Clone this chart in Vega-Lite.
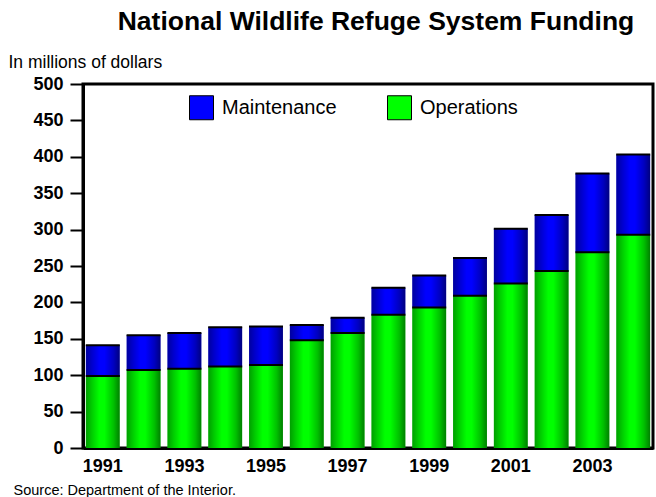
{
  "$schema": "https://vega.github.io/schema/vega-lite/v6.json",
  "width": 570,
  "height": 364,
  "autosize": {"type": "none"},
  "padding": {"left": 83, "top": 84, "right": 3, "bottom": 49},
  "background": "white",
  "title": {
    "text": "National Wildlife Refuge System Funding",
    "font": "Liberation Sans",
    "fontSize": 26.5,
    "fontWeight": "bold",
    "color": "black",
    "anchor": "middle",
    "frame": "group",
    "baseline": "alphabetic",
    "dx": 8,
    "offset": -3
  },
  "data": {
    "values": [
      {"year": 1991, "series": "Operations", "value": 99},
      {"year": 1991, "series": "Maintenance", "value": 42},
      {"year": 1992, "series": "Operations", "value": 107},
      {"year": 1992, "series": "Maintenance", "value": 48},
      {"year": 1993, "series": "Operations", "value": 109},
      {"year": 1993, "series": "Maintenance", "value": 49},
      {"year": 1994, "series": "Operations", "value": 112},
      {"year": 1994, "series": "Maintenance", "value": 54},
      {"year": 1995, "series": "Operations", "value": 114},
      {"year": 1995, "series": "Maintenance", "value": 53},
      {"year": 1996, "series": "Operations", "value": 148},
      {"year": 1996, "series": "Maintenance", "value": 21},
      {"year": 1997, "series": "Operations", "value": 158},
      {"year": 1997, "series": "Maintenance", "value": 21},
      {"year": 1998, "series": "Operations", "value": 183},
      {"year": 1998, "series": "Maintenance", "value": 37},
      {"year": 1999, "series": "Operations", "value": 193},
      {"year": 1999, "series": "Maintenance", "value": 44},
      {"year": 2000, "series": "Operations", "value": 209},
      {"year": 2000, "series": "Maintenance", "value": 52},
      {"year": 2001, "series": "Operations", "value": 226},
      {"year": 2001, "series": "Maintenance", "value": 75},
      {"year": 2002, "series": "Operations", "value": 243},
      {"year": 2002, "series": "Maintenance", "value": 77},
      {"year": 2003, "series": "Operations", "value": 269},
      {"year": 2003, "series": "Maintenance", "value": 108},
      {"year": 2004, "series": "Operations", "value": 293},
      {"year": 2004, "series": "Maintenance", "value": 110}
    ]
  },
  "transform": [
    {
      "stack": "value",
      "groupby": ["year"],
      "sort": [{"field": "series", "order": "descending"}],
      "as": ["v0", "v1"]
    }
  ],
  "encoding": {
    "x": {
      "field": "year",
      "type": "ordinal",
      "scale": {"paddingInner": 0.17, "paddingOuter": 0.07},
      "axis": {
        "values": [1991, 1993, 1995, 1997, 1999, 2001, 2003],
        "labelAngle": 0,
        "ticks": false,
        "tickSize": 0,
        "labelPadding": 9,
        "title": "Source: Department of the Interior.",
        "titleX": -70,
        "titleY": 46,
        "titleAlign": "left",
        "titleAnchor": null,
        "titleBaseline": "alphabetic",
        "titleFontSize": 14.5,
        "titleFontWeight": "normal"
      }
    },
    "y": {
      "field": "v1",
      "type": "quantitative",
      "scale": {"domain": [0, 500], "nice": false},
      "axis": {
        "values": [0, 50, 100, 150, 200, 250, 300, 350, 400, 450, 500],
        "grid": false,
        "tickSize": 13,
        "tickWidth": 2,
        "labelPadding": 7,
        "title": "In millions of dollars",
        "titleAngle": 0,
        "titleX": -75,
        "titleY": -17,
        "titleAlign": "left",
        "titleAnchor": null,
        "titleBaseline": "alphabetic",
        "titleFontSize": 17.5,
        "titleFontWeight": "normal"
      }
    }
  },
  "layer": [
    {
      "mark": {"type": "bar"},
      "encoding": {
        "y2": {"field": "v0"},
        "color": {
          "field": "series",
          "type": "nominal",
          "scale": {"domain": ["Maintenance", "Operations"], "range": ["#0000ff", "#00ff00"]},
          "legend": {
            "orient": "none",
            "legendX": 106,
            "legendY": 11,
            "direction": "horizontal",
            "title": null,
            "padding": 0,
            "symbolType": "square",
            "symbolSize": 576,
            "symbolStrokeColor": "#000000",
            "symbolStrokeWidth": 1,
            "symbolOpacity": 1,
            "labelFont": "Liberation Sans",
            "labelFontSize": 20,
            "labelColor": "black",
            "labelOffset": 8,
            "columnPadding": 48
          }
        }
      }
    },
    {
      "mark": {
        "type": "bar",
        "color": {
          "gradient": "linear",
          "x1": 0, "y1": 0, "x2": 1, "y2": 0,
          "stops": [
            {"offset": 0, "color": "rgba(0,0,0,0.38)"},
            {"offset": 0.18, "color": "rgba(0,0,0,0.2)"},
            {"offset": 0.4, "color": "rgba(0,0,0,0)"},
            {"offset": 0.55, "color": "rgba(0,0,0,0)"},
            {"offset": 0.82, "color": "rgba(0,0,0,0.25)"},
            {"offset": 1, "color": "rgba(0,0,0,0.5)"}
          ]
        }
      },
      "encoding": {
        "y2": {"field": "v0"}
      }
    },
    {
      "mark": {"type": "tick", "color": "black", "thickness": 2, "size": 34, "opacity": 1},
      "encoding": {}
    }
  ],
  "config": {
    "font": "Liberation Sans",
    "view": {"stroke": "black", "strokeWidth": 3},
    "axis": {
      "domainColor": "black",
      "domainWidth": 3,
      "tickColor": "black",
      "labelFont": "Liberation Sans",
      "labelFontSize": 18,
      "labelFontWeight": "bold",
      "labelColor": "black",
      "titleFont": "Liberation Sans",
      "titleColor": "black"
    }
  }
}
